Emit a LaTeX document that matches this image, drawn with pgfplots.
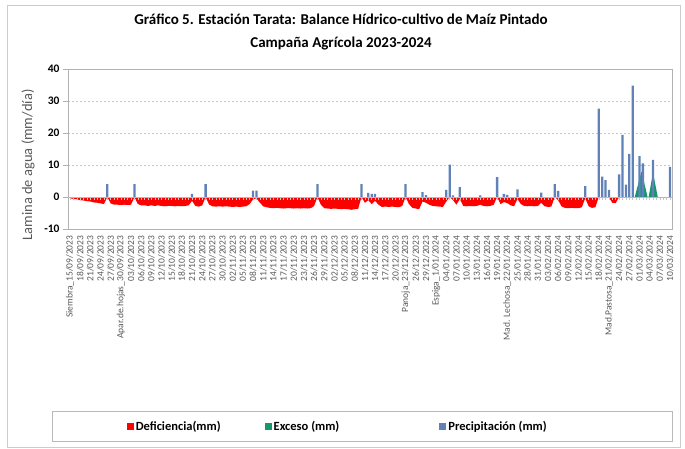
\documentclass[border=0pt]{standalone}
\usepackage{fontspec}
\setmainfont{Carlito}
\usepackage{pgfplots}
\usepackage{pgfplotstable}
\pgfplotsset{compat=1.18}
\definecolor{defred}{RGB}{255,0,0}
\definecolor{exgreen}{RGB}{22,150,110}
\definecolor{precblue}{RGB}{96,130,184}
\definecolor{labgray}{RGB}{89,89,89}

\pgfplotstableread{
day def
0 -0.4
1 -0.6
2 -0.7
3 -1.0
4 -1.1
5 -1.3
6 -1.4
7 -1.7
8 -1.8
9 -2.0
10 -2.2
11 0
12 -2.0
13 -2.4
14 -2.4
15 -2.5
16 -2.4
17 -2.5
18 -2.4
19 0
20 -2.2
21 -2.6
22 -2.6
23 -2.8
24 -2.6
25 -2.8
26 -2.6
27 -2.8
28 -2.9
29 -2.8
30 -2.8
31 -2.9
32 -2.8
33 -2.9
34 -2.8
35 -2.6
36 -1.2
37 -2.8
38 -3.0
39 -2.6
40 0
41 -2.3
42 -2.9
43 -3.0
44 -2.9
45 -3.0
46 -2.9
47 -3.0
48 -3.1
49 -3.0
50 -3.1
51 -3.0
52 -2.9
53 -2.2
54 -0.7
55 -0.4
56 -1.8
57 -2.9
58 -3.2
59 -3.4
60 -3.5
61 -3.4
62 -3.5
63 -3.6
64 -3.5
65 -3.5
66 -3.6
67 -3.5
68 -3.6
69 -3.5
70 -3.6
71 -3.5
72 -2.8
73 0
74 -2.4
75 -3.5
76 -3.6
77 -3.7
78 -3.6
79 -3.7
80 -3.8
81 -3.7
82 -3.8
83 -4.0
84 -3.8
85 -3.7
86 0
87 -1.8
88 -1.0
89 -2.2
90 -1.2
91 -2.4
92 -3.1
93 -3.0
94 -3.1
95 -3.0
96 -3.1
97 -3.2
98 -2.8
99 0
100 -2.2
101 -3.4
102 -3.6
103 -3.8
104 -1.4
105 -1.8
106 -2.4
107 -2.8
108 -2.9
109 -3.0
110 -3.1
111 -1.4
112 0
113 -1.0
114 -2.4
115 -0.6
116 -2.8
117 -2.9
118 -2.8
119 -2.9
120 -2.8
121 -2.4
122 -2.8
123 -2.9
124 -2.8
125 -2.4
126 0
127 -2.2
128 -1.6
129 -1.9
130 -2.6
131 -2.9
132 -0.6
133 -2.2
134 -2.8
135 -2.9
136 -2.8
137 -2.9
138 -2.8
139 -1.8
140 -2.9
141 -3.1
142 -3.0
143 0
144 -1.0
145 -2.9
146 -3.4
147 -3.5
148 -3.4
149 -3.5
150 -3.5
151 -3.2
152 -0.4
153 -2.9
154 -3.4
155 -3.2
156 0
157 0
158 0
159 -0.2
160 -1.8
161 -1.9
162 0
163 0
}\deftable

\pgfplotstableread{
day prec
11 4.0
19 4.0
36 1.0
40 4.0
54 2.0
55 2.0
73 4.0
86 4.0
88 1.3
89 1.0
90 1.0
99 4.0
104 1.5
105 0.6
111 2.2
112 10.1
113 0.5
115 3.1
121 0.5
126 6.2
128 1.0
129 0.7
132 2.4
139 1.4
143 4.0
144 1.9
152 3.4
156 27.6
157 6.4
158 5.3
159 2.2
162 7.1
163 19.4
164 3.9
165 13.5
166 34.8
168 12.8
169 10.5
172 11.6
177 9.4
}\prectable

\pgfplotstableread{
day exc
166 0
166.6 0
168.6 8.0
170.4 0
170.7 0
172 7.6
173.4 0
}\exctable

\begin{document}
\begin{tikzpicture}
\useasboundingbox (0pt,0pt) rectangle (685pt,448pt);
\draw[gray!40, line width=0.8pt] (7pt,1pt) rectangle (680pt,443pt);
\node[font=\bfseries\fontsize{15}{23}\selectfont, align=center] at (341pt,416pt)
  {Gráfico 5. Estación Tarata: Balance Hídrico-cultivo de Maíz Pintado\\Campaña Agrícola 2023-2024};
\draw[gray!55, line width=0.8pt] (52pt,7pt) rectangle (672pt,37pt);

\begin{axis}[
  at={(68pt,219pt)}, anchor=south west,
  scale only axis, width=604pt, height=160pt,
  xmin=-0.6, xmax=177.6, ymin=-10, ymax=40,
  axis line style={gray!60, line width=0.8pt},
  tick pos=left, tick align=outside, major tick length=5pt,
  xtick={0,3,...,177},
  xticklabels={Siembra\_15/09/2023,18/09/2023,21/09/2023,24/09/2023,27/09/2023,Apar.de.hojas\_30/09/2023,03/10/2023,06/10/2023,09/10/2023,12/10/2023,15/10/2023,18/10/2023,21/10/2023,24/10/2023,27/10/2023,30/10/2023,02/11/2023,05/11/2023,08/11/2023,11/11/2023,14/11/2023,17/11/2023,20/11/2023,23/11/2023,26/11/2023,29/11/2023,02/12/2023,05/12/2023,08/12/2023,11/12/2023,14/12/2023,17/12/2023,20/12/2023,Panoja\_23/12/2023,26/12/2023,29/12/2023,Espiga\_1/01/2024,04/01/2024,07/01/2024,10/01/2024,13/01/2024,16/01/2024,19/01/2024,Mad. Lechosa\_22/01/2024,25/01/2024,28/01/2024,31/01/2024,03/02/2024,06/02/2024,09/02/2024,12/02/2024,15/02/2024,18/02/2024,Mad.Pastosa\_21/02/2024,24/02/2024,27/02/2024,01/03/2024,04/03/2024,07/03/2024,10/03/2024},
  xtick style={draw=none},
  xticklabel style={rotate=90, anchor=east, font=\fontsize{9.5}{10}\selectfont, text=labgray, inner sep=1.5pt},
  ytick={-10,0,10,20,30,40},
  yticklabels={-10,0,10,20,30,40},
  yticklabel style={font=\bfseries\fontsize{11.5}{12}\selectfont},
  ytick style={gray!60, line width=0.6pt},
  ymajorgrids,
  grid style={gray!45, line width=0.6pt, dash pattern=on 2pt off 2pt},
  ylabel={Lamina de agua (mm/día)},
  every axis y label/.style={at={(axis description cs:-0.066,0.40)}, rotate=90, anchor=center, font=\fontsize{14.5}{16}\selectfont, text=labgray},
  legend style={at={(0.092,-1.232)}, anchor=west, draw=none, fill=none, legend columns=3,
    font=\bfseries\fontsize{12.5}{14}\selectfont,
    /tikz/column 2/.style={column sep=42pt},
    /tikz/column 4/.style={column sep=98pt}},
]
\addplot[fill=defred, draw=none,
  legend image code/.code={\fill[defred] (0pt,-3.5pt) rectangle (7pt,3.5pt);}]
  table[x=day, y=def] {\deftable} \closedcycle;
\addlegendentry{Deficiencia(mm)}
\addplot[fill=exgreen, draw=none,
  legend image code/.code={\fill[exgreen] (0pt,-3.5pt) rectangle (7pt,3.5pt);}]
  table[x=day, y=exc] {\exctable} \closedcycle;
\addlegendentry{Exceso (mm)}
\addplot[ybar, bar width=2.3pt, fill=precblue, draw=none,
  legend image code/.code={\fill[precblue] (0pt,-3.5pt) rectangle (7pt,3.5pt);}]
  table[x=day, y=prec] {\prectable};
\addlegendentry{Precipitación (mm)}
\end{axis}

\begin{axis}[
  at={(68pt,219pt)}, anchor=south west,
  scale only axis, width=604pt, height=160pt,
  xmin=-0.6, xmax=177.6, ymin=-10, ymax=40,
  axis x line*=middle, axis y line=none,
  xtick={0,...,177}, xticklabels={}, ytick=\empty,
  x axis line style={gray!55, line width=0.6pt},
  xtick style={gray!45, line width=0.5pt},
  tick align=outside, major tick length=2.5pt,
]
\end{axis}
\end{tikzpicture}
\end{document}
